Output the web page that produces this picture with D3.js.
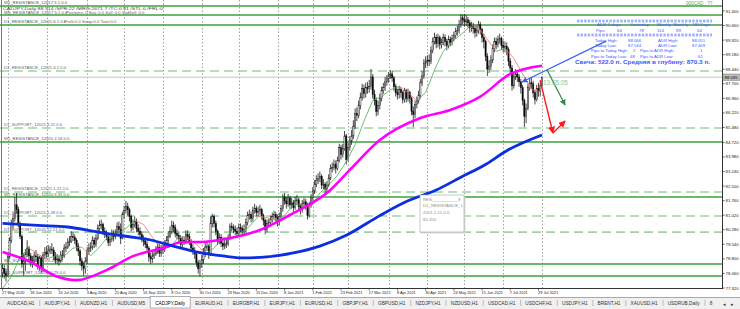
<!DOCTYPE html>
<html><head><meta charset="utf-8">
<script src="https://cdn.jsdelivr.net/npm/d3@7/dist/d3.min.js"></script>
<style>body{margin:0;background:#fff}svg{display:block;font-family:"Liberation Sans",Arial,sans-serif}</style>
</head><body><svg id="c" width="740" height="309"></svg>
<script>
// ---------- DATA (CADJPY, Daily) ----------
const openP = [78.10,78.30,78.05,77.95,78.90,79.75,80.60,80.85,81.55,81.30,
80.55,79.95,78.55,78.70,79.05,79.35,78.95,78.60,78.70,78.95,
78.90,78.40,78.85,78.30,79.00,79.15,79.05,79.20,79.30,79.25,
78.95,78.75,78.80,78.70,79.00,78.95,79.35,79.40,79.65,79.70,
79.95,79.90,79.75,79.45,79.20,78.70,78.45,78.30,78.70,79.20,
79.35,79.40,79.75,79.55,79.85,80.35,80.50,80.55,80.20,80.05,
79.95,79.65,79.80,80.10,79.95,80.05,80.45,80.30,79.85,81.05,
81.25,81.45,81.30,80.95,80.40,80.55,80.70,80.35,80.20,80.05,
79.85,79.70,79.55,79.35,78.90,78.80,78.95,79.05,79.20,79.40,
79.10,79.25,79.30,79.50,79.75,79.95,80.20,80.50,80.40,80.10,
80.00,79.85,79.55,79.75,79.70,80.05,79.95,79.70,79.35,79.20,
79.05,78.60,78.30,78.55,78.75,79.05,79.40,79.45,79.00,80.60,
80.95,80.60,80.20,79.70,79.90,79.60,79.45,79.55,79.60,79.85,
80.45,80.40,80.30,80.20,80.10,80.40,80.35,80.20,80.30,80.65,
81.00,81.05,80.85,81.25,81.35,81.15,81.20,81.30,81.00,80.75,
80.30,80.60,80.65,80.80,80.95,81.05,80.90,80.70,80.95,81.35,
81.95,81.75,81.60,81.90,81.55,81.65,81.40,81.75,81.80,81.45,
81.30,81.60,81.70,81.55,81.00,81.55,81.90,82.25,82.60,82.80,
82.90,83.00,82.55,82.60,82.35,82.55,82.90,83.40,83.45,83.60,
83.40,83.80,84.45,84.10,84.40,85.05,83.85,84.45,84.80,85.05,
85.55,86.20,86.10,86.60,87.00,87.45,87.20,87.50,87.45,87.55,
88.05,87.15,86.85,86.30,86.60,86.95,87.35,87.50,87.80,87.95,
88.10,88.20,88.00,87.55,87.25,87.15,87.40,87.25,86.90,87.35,
86.95,87.25,86.95,86.30,86.15,86.65,86.85,87.10,87.75,88.10,
88.75,88.85,88.90,88.85,89.40,89.85,90.05,89.75,90.05,89.70,
89.80,90.05,89.85,89.65,89.95,89.80,90.00,90.15,90.35,90.40,
90.70,91.05,90.95,90.85,90.95,90.80,90.55,90.60,90.50,90.30,
90.40,90.70,90.45,90.05,89.85,89.10,88.45,88.60,88.90,89.50,
89.85,89.70,89.95,90.00,89.65,89.55,89.60,89.45,88.85,88.50,
87.60,88.05,88.20,88.05,87.80,87.50,86.85,86.05,86.45,87.50,
87.75,87.70,87.25,86.90,87.45,87.30,87.60];
const highP = [78.55,78.50,78.30,79.05,79.90,80.80,81.10,81.95,82.15,81.45,
80.70,80.05,79.10,79.30,79.75,79.45,79.10,78.95,79.15,79.25,
79.05,78.95,78.95,79.15,79.40,79.45,79.50,79.45,79.60,79.40,
79.15,79.05,78.95,79.20,79.25,79.55,79.65,79.85,79.95,80.20,
80.15,80.05,79.85,79.60,79.30,78.85,78.65,78.90,79.40,79.60,
79.65,79.95,79.90,80.05,80.55,80.75,80.80,80.65,80.40,80.25,
80.10,79.95,80.30,80.25,80.30,80.65,80.70,80.60,81.20,81.50,
81.75,81.65,81.40,81.05,80.80,80.95,80.85,80.55,80.40,80.20,
80.00,79.90,79.70,79.45,79.10,79.20,79.30,79.45,79.65,79.55,
79.50,79.55,79.75,79.95,80.20,80.45,80.75,80.70,80.55,80.30,
80.20,80.00,79.95,79.95,80.25,80.25,80.10,79.80,79.55,79.40,
79.15,78.75,78.75,79.00,79.35,79.65,79.70,79.55,80.95,81.10,
81.05,80.75,80.30,80.10,80.05,79.75,79.80,79.85,80.05,80.60,
80.65,80.55,80.50,80.40,80.60,80.60,80.50,80.55,80.85,81.20,
81.30,81.20,81.45,81.60,81.50,81.45,81.55,81.40,81.10,80.85,
80.80,80.85,81.00,81.15,81.25,81.20,81.05,81.15,81.55,82.10,
82.15,81.95,82.10,82.00,81.90,81.80,81.95,82.05,81.90,81.60,
81.80,81.90,81.85,81.65,81.70,82.10,82.45,82.80,83.05,83.15,
83.25,83.10,82.85,82.70,82.75,83.10,83.60,83.70,83.85,83.80,
84.00,84.65,84.60,84.65,85.30,85.15,84.70,85.05,85.35,85.85,
86.45,86.50,86.85,87.25,87.70,87.65,87.75,87.80,87.90,88.45,
88.20,87.40,87.00,86.85,87.20,87.55,87.75,88.05,88.15,88.30,
88.40,88.35,88.10,87.70,87.45,87.60,87.55,87.35,87.50,87.45,
87.45,87.35,87.05,86.55,86.85,87.05,87.35,87.95,88.35,88.95,
89.10,89.15,89.20,89.60,90.05,90.30,90.20,90.25,90.15,90.00,
90.25,90.20,90.00,90.15,90.10,90.20,90.35,90.55,90.65,90.95,
91.25,91.20,91.25,91.20,91.10,90.95,90.85,90.80,90.65,90.65,
90.90,90.85,90.55,90.25,89.95,89.25,88.90,89.15,89.70,90.05,
90.05,90.15,90.25,90.10,89.90,89.85,89.80,89.55,89.00,88.65,
88.25,88.45,88.40,88.20,87.95,87.65,86.95,86.70,87.70,88.00,
88.00,87.85,87.40,87.65,87.75,87.75,88.07];
const lowP = [77.85,77.80,77.65,77.90,78.80,79.60,80.35,80.70,81.10,80.40,
79.80,78.35,77.95,78.20,78.90,78.70,78.40,78.35,78.55,78.65,
78.25,78.20,78.10,78.15,78.80,78.85,78.90,79.05,79.05,78.75,
78.55,78.55,78.45,78.60,78.75,78.85,79.15,79.30,79.45,79.60,
79.70,79.55,79.20,78.95,78.45,78.20,77.95,78.05,78.55,79.00,
79.15,79.25,79.35,79.40,79.75,80.20,80.30,80.00,79.85,79.75,
79.45,79.45,79.65,79.70,79.80,79.95,80.10,79.55,79.80,80.85,
81.10,81.00,80.70,80.20,80.25,80.40,80.15,80.00,79.85,79.65,
79.45,79.35,79.10,78.65,78.55,78.60,78.80,78.95,79.05,78.90,
78.90,79.05,79.15,79.35,79.60,79.85,80.05,80.15,79.90,79.80,
79.65,79.35,79.40,79.50,79.55,79.75,79.50,79.15,79.00,78.80,
78.40,78.05,77.90,78.35,78.55,78.90,79.20,78.80,78.95,80.40,
80.40,80.00,79.50,79.55,79.40,79.25,79.30,79.35,79.45,79.75,
80.20,80.10,80.00,79.85,79.95,80.15,80.00,80.05,80.15,80.50,
80.80,80.65,80.70,81.10,80.95,80.95,81.05,80.80,80.50,80.05,
80.15,80.40,80.50,80.65,80.80,80.70,80.45,80.50,80.85,81.20,
81.55,81.35,81.45,81.35,81.35,81.20,81.30,81.55,81.25,81.05,
81.15,81.40,81.30,80.80,80.90,81.40,81.75,82.10,82.45,82.60,
82.70,82.35,82.35,82.10,82.20,82.45,82.80,83.20,83.30,83.15,
83.30,83.70,83.85,83.95,84.30,83.60,83.75,84.30,84.60,84.90,
85.40,85.80,85.95,86.40,86.85,86.95,87.00,87.20,87.25,87.40,
86.95,86.60,86.05,86.10,86.40,86.80,87.20,87.35,87.60,87.75,
87.95,87.80,87.35,87.05,86.90,86.95,87.00,86.70,86.75,86.75,
86.80,86.70,86.10,85.50,85.95,86.45,86.70,86.95,87.60,87.95,
88.50,88.60,88.60,88.70,89.25,89.70,89.50,89.55,89.45,89.50,
89.65,89.60,89.40,89.50,89.60,89.65,89.85,90.00,90.15,90.25,
90.55,90.70,90.60,90.65,90.55,90.30,90.35,90.25,90.05,90.10,
90.25,90.20,89.80,89.50,88.85,88.10,88.25,88.40,88.75,89.30,
89.45,89.55,89.75,89.45,89.30,89.30,89.15,88.60,88.20,87.35,
87.45,87.90,87.80,87.55,87.20,86.60,85.50,85.70,86.35,87.35,
87.45,87.00,86.65,86.80,87.05,87.05,87.54];
const closeP = [78.30,78.05,77.95,78.90,79.75,80.60,80.85,81.55,81.30,80.55,
79.95,78.55,78.70,79.05,79.35,78.95,78.60,78.70,78.95,78.90,
78.40,78.85,78.30,79.00,79.15,79.05,79.20,79.30,79.25,78.95,
78.75,78.80,78.70,79.00,78.95,79.35,79.40,79.65,79.70,79.95,
79.90,79.75,79.45,79.20,78.70,78.45,78.30,78.70,79.20,79.35,
79.40,79.75,79.55,79.85,80.35,80.50,80.55,80.20,80.05,79.95,
79.65,79.80,80.10,79.95,80.05,80.45,80.30,79.85,81.05,81.25,
81.45,81.30,80.95,80.40,80.55,80.70,80.35,80.20,80.05,79.85,
79.70,79.55,79.35,78.90,78.80,78.95,79.05,79.20,79.40,79.10,
79.25,79.30,79.50,79.75,79.95,80.20,80.50,80.40,80.10,80.00,
79.85,79.55,79.75,79.70,80.05,79.95,79.70,79.35,79.20,79.05,
78.60,78.30,78.55,78.75,79.05,79.40,79.45,79.00,80.60,80.95,
80.60,80.20,79.70,79.90,79.60,79.45,79.55,79.60,79.85,80.45,
80.40,80.30,80.20,80.10,80.40,80.35,80.20,80.30,80.65,81.00,
81.05,80.85,81.25,81.35,81.15,81.20,81.30,81.00,80.75,80.30,
80.60,80.65,80.80,80.95,81.05,80.90,80.70,80.95,81.35,81.95,
81.75,81.60,81.90,81.55,81.65,81.40,81.75,81.80,81.45,81.30,
81.60,81.70,81.55,81.00,81.55,81.90,82.25,82.60,82.80,82.90,
83.00,82.55,82.60,82.35,82.55,82.90,83.40,83.45,83.60,83.40,
83.80,84.45,84.10,84.40,85.05,83.85,84.45,84.80,85.05,85.55,
86.20,86.10,86.60,87.00,87.45,87.20,87.50,87.45,87.55,88.05,
87.15,86.85,86.30,86.60,86.95,87.35,87.50,87.80,87.95,88.10,
88.20,88.00,87.55,87.25,87.15,87.40,87.25,86.90,87.35,86.95,
87.25,86.95,86.30,86.15,86.65,86.85,87.10,87.75,88.10,88.75,
88.85,88.90,88.85,89.40,89.85,90.05,89.75,90.05,89.70,89.80,
90.05,89.85,89.65,89.95,89.80,90.00,90.15,90.35,90.40,90.70,
91.05,90.95,90.85,90.95,90.80,90.55,90.60,90.50,90.30,90.40,
90.70,90.45,90.05,89.85,89.10,88.45,88.60,88.90,89.50,89.85,
89.70,89.95,90.00,89.65,89.55,89.60,89.45,88.85,88.50,87.60,
88.05,88.20,88.05,87.80,87.50,86.85,86.05,86.45,87.50,87.75,
87.70,87.25,86.90,87.45,87.30,87.60,88.03];

// moving averages (at bar indices)
const blueIdx = [0,20,37,55,70,84,97,112,125,136,150,165,180,195,214,230,246,260,274,286,306];
const blueVal = [80.60,80.50,80.42,80.15,79.95,79.76,79.45,79.12,78.95,78.85,78.90,79.10,79.45,80.00,81.00,81.75,82.30,82.95,83.60,84.30,85.10];
const magIdx = [0,16,30,42,59,74,93,102,112,129,146,163,186,197,214,237,254,271,288,306];
const magVal = [79.15,78.64,77.93,77.72,78.23,78.94,79.40,79.66,79.66,79.86,80.27,81.03,82.30,83.32,84.84,85.96,86.37,87.05,88.20,88.62];
const fastIdx = [0,5,10,15,20,25,30,35,40,45,50,55,60,65,70,75,80,85,90,95,100,105,110,115,120,125,130,135,140,145,150,155,160,165,170,175,180,185,190,195,200,205,210,215,220,225,230,235,240,245,250,255,260,265,270,275,280,285,290,295,300,305];
const fastVal = [77.30,77.90,78.90,79.35,79.05,78.80,78.95,78.95,79.35,79.40,78.95,79.40,79.95,80.05,80.35,80.75,80.55,79.90,79.35,79.40,79.90,79.85,79.55,79.05,79.35,79.90,79.80,80.10,80.45,80.95,80.90,80.75,81.00,81.55,81.55,81.45,82.15,82.55,83.05,83.75,84.60,85.80,86.85,87.05,87.40,87.55,87.25,86.85,87.25,88.40,89.35,89.85,90.20,90.60,90.55,89.95,89.35,89.50,89.00,88.20,87.40,87.30];

const yTickLabels = ["91.400","90.660","89.920","89.180","88.440","87.700","86.960","86.220","85.480","84.720","83.980","83.240","82.500","81.760","81.020","80.280","79.540","78.800","78.060","77.320"];
const dateLabels = ["27 May 2020","18 Jun 2020","10 Jul 2020","3 Aug 2020","25 Aug 2020","16 Sep 2020","8 Oct 2020","30 Oct 2020","23 Nov 2020","15 Dec 2020","8 Jan 2021","1 Feb 2021","23 Feb 2021","17 Mar 2021","8 Apr 2021","30 Apr 2021","24 May 2021","15 Jun 2021","7 Jul 2021","29 Jul 2021"];
const monthStartIdx = [3,25,48,69,91,113,134,156,176,196,219,241,262,284,306];

const solidLevels = [91.65,91.20,90.69,84.74,81.94,78.54,77.93];
const solidNames = ["W1_RESISTANCE_12017.5.1 0.0","MN_RESISTANCE_12017.5.1 0.0","D1_RESISTANCE_12021.6.1 0.0","W1_RESISTANCE_12020.2.16 0.0","W1_RESISTANCE_12020.5.31 0.0","W1_SUPPORT_12020.6.28 0.0","W1_SUPPORT_12020.10.25 0.0"];
const dashedLevels = [88.35,85.45,82.20,80.98,80.16];
const dashedNames = ["D1_RESISTANCE_12021.4.2 0.0","D1_SUPPORT_12021.4.21 0.0","D1_RESISTANCE_12021.1.21 0.0","D1_SUPPORT_12021.1.28 0.0","D1_SUPPORT_12020.12.21 0.0"];
const currentPrice = 88.035;

// drawn objects (bar index, price)
const blueTrend = [[294.7,87.79],[342.3,89.87]];
const greenArrow = [[308.9,88.40],[319.1,86.62]];
const redArrow = [[304.9,87.89],[312.2,85.20],[315.1,85.45],[319.1,85.81]];
const timerText = {i:306.6, p:87.62, t:"13:05.05"};

const tabs = ["AUDCAD,H1","AUDJPY,H1","AUDNZD,H1","AUDUSD,M5","CADJPY,Daily","EURAUD,H1","EURGBP,H1","EURJPY,H1","EURUSD,H1","GBPJPY,H1","GBPUSD,H1","NZDJPY,H1","NZDUSD,H1","USDCAD,H1","USDCHF,H1","USDJPY,H1","BRENT,H1","XAUUSD,H1","USDRUB,Daily","8"];
const activeTab = "CADJPY,Daily";

const adrHeader = ["ADR:","5 days","Yesterday","Weekly","Monthly","180 Days"];
const adrPips = ["Pips:","64","78","114","89","64"];

// ---------- CHART ----------
const svg = d3.select('#c');
const plotR = 722, plotB = 288;
const x = d3.scaleLinear().domain([0,306]).range([2.5,542]);
const y = d3.scaleLinear().domain([77.32,91.40]).range([288,11]);
const N = Math.min(openP.length, highP.length, lowP.length, closeP.length);

svg.append('rect').attr('width',740).attr('height',309).attr('fill','#fff');
const defs = svg.append('defs');
defs.append('clipPath').attr('id','plot').append('rect').attr('x',0).attr('y',0).attr('width',plotR).attr('height',plotB);
function marker(id,color){
  defs.append('marker').attr('id',id).attr('viewBox','0 0 10 10').attr('refX',9).attr('refY',5)
    .attr('markerWidth',5).attr('markerHeight',5).attr('orient','auto-start-reverse')
    .append('path').attr('d','M0,0L10,5L0,10z').attr('fill',color);
}
marker('mBlue','#3a62f0'); marker('mGreen','#2f8a45'); marker('mRed','#ff1a1a');

const g = svg.append('g').attr('clip-path','url(#plot)');

// vertical grid (monthly)
g.selectAll('.vg').data(monthStartIdx).join('line')
  .attr('x1',d=>Math.round(x(d))+0.5).attr('x2',d=>Math.round(x(d))+0.5)
  .attr('y1',0).attr('y2',plotB).attr('stroke','#8a8a8a').attr('stroke-width',0.8).attr('stroke-dasharray','1.5,2');

// levels
g.selectAll('.dl').data(dashedLevels).join('line')
  .attr('x1',0).attr('x2',plotR).attr('y1',d=>y(d)).attr('y2',d=>y(d))
  .attr('stroke','#9fd3a4').attr('stroke-width',1.6).attr('stroke-dasharray','9,5');
g.selectAll('.sl').data(solidLevels).join('line')
  .attr('x1',0).attr('x2',plotR).attr('y1',d=>y(d)).attr('y2',d=>y(d))
  .attr('stroke','#3f9e3f').attr('stroke-width',1.5);
// current price line
g.append('line').attr('x1',0).attr('x2',plotR).attr('y1',y(currentPrice)).attr('y2',y(currentPrice))
  .attr('stroke','#c4c4c4').attr('stroke-width',1);

// level labels
const lblF = 4.2;
g.selectAll('.sln').data(solidLevels).join('text')
  .attr('x',4).attr('y',(d,i)=> i===1 ? y(d)-1.4 : y(d)-1.6).attr('font-size',lblF).attr('fill','#555').text((d,i)=>solidNames[i]);
g.selectAll('.dln').data(dashedLevels).join('text')
  .attr('x',4).attr('y',d=>y(d)-1.6).attr('font-size',lblF).attr('fill','#666').text((d,i)=>dashedNames[i]);

// candles
const bars = d3.range(N);
g.selectAll('.wick').data(bars).join('line')
  .attr('x1',i=>x(i)).attr('x2',i=>x(i)).attr('y1',i=>y(highP[i])).attr('y2',i=>y(lowP[i]))
  .attr('stroke','#1a1a1a').attr('stroke-width',0.8);
g.selectAll('.body').data(bars).join('rect')
  .attr('x',i=>x(i)-0.6).attr('width',1.2)
  .attr('y',i=>y(Math.max(openP[i],closeP[i])))
  .attr('height',i=>Math.max(0.8, Math.abs(y(openP[i])-y(closeP[i]))))
  .attr('fill',i=>closeP[i]>=openP[i]?'#ffffff':'#000')
  .attr('stroke','#111').attr('stroke-width',0.5);

// thin MA coloured by direction
const fastPts = fastIdx.map((d,i)=>[d,fastVal[i]]);
for(let k=0;k<fastPts.length-1;k++){
  const a=fastPts[k], b=fastPts[k+1];
  g.append('line').attr('x1',x(a[0])).attr('y1',y(a[1])).attr('x2',x(b[0])).attr('y2',y(b[1]))
   .attr('stroke', b[1]>=a[1] ? '#4caf50' : '#ff6b6b').attr('stroke-width',0.8);
}

// magenta & blue MAs
const lineGen = d3.line().x(d=>x(d[0])).y(d=>y(d[1])).curve(d3.curveMonotoneX);
g.append('path').attr('d',lineGen(magIdx.map((d,i)=>[d,magVal[i]])))
  .attr('fill','none').attr('stroke','#ff00ff').attr('stroke-width',2.6);
g.append('path').attr('d',lineGen(blueIdx.map((d,i)=>[d,blueVal[i]])))
  .attr('fill','none').attr('stroke','#0a2ee0').attr('stroke-width',2.8);

// drawn objects
const objLine = d3.line().x(d=>x(d[0])).y(d=>y(d[1]));
g.append('path').attr('d',objLine(blueTrend)).attr('fill','none').attr('stroke','#3a62f0').attr('stroke-width',1.2).attr('marker-start','url(#mBlue)');
g.append('path').attr('d',objLine(greenArrow)).attr('fill','none').attr('stroke','#2f8a45').attr('stroke-width',1.2).attr('marker-end','url(#mGreen)');
g.append('path').attr('d',objLine(redArrow.slice(0,2))).attr('fill','none').attr('stroke','#ff1a1a').attr('stroke-width',1.4).attr('marker-end','url(#mRed)');
g.append('path').attr('d',objLine(redArrow.slice(1))).attr('fill','none').attr('stroke','#ff1a1a').attr('stroke-width',1.4).attr('marker-end','url(#mRed)');
g.append('text').attr('x',x(timerText.i)).attr('y',y(timerText.p)).attr('font-size',6.4).attr('fill','#7cc99a').text(timerText.t);

// left frame
svg.append('line').attr('x1',1.5).attr('x2',1.5).attr('y1',0).attr('y2',plotB).attr('stroke','#777').attr('stroke-width',1);

// right axis
svg.append('line').attr('x1',plotR+0.5).attr('x2',plotR+0.5).attr('y1',0).attr('y2',plotB).attr('stroke','#333');
const yTicks = yTickLabels.map(Number);
svg.selectAll('.yt').data(yTicks).join('line')
  .attr('x1',plotR).attr('x2',plotR+2.5).attr('y1',d=>y(d)).attr('y2',d=>y(d)).attr('stroke','#333').attr('stroke-width',0.8);
svg.selectAll('.ytl').data(yTicks).join('text')
  .attr('x',plotR+3.5).attr('y',d=>y(d)+1.5).attr('font-size',4.3).attr('fill','#222').text((d,i)=>yTickLabels[i]);
// current price tag
svg.append('rect').attr('x',plotR+1).attr('y',y(currentPrice)-3.2).attr('width',17).attr('height',6.4).attr('fill','#bdbdbd').attr('stroke','#777').attr('stroke-width',0.5);
svg.append('text').attr('x',plotR+2.5).attr('y',y(currentPrice)+1.6).attr('font-size',4.3).attr('fill','#000').text(d3.format('.3f')(currentPrice));

// bottom axis
svg.append('line').attr('x1',0).attr('x2',plotR+1).attr('y1',plotB+0.5).attr('y2',plotB+0.5).attr('stroke','#333');
const dIdx = dateLabels.map((d,k)=>k*16);
svg.selectAll('.xt').data(dIdx).join('line')
  .attr('x1',d=>x(d)).attr('x2',d=>x(d)).attr('y1',plotB).attr('y2',plotB+2.5).attr('stroke','#333').attr('stroke-width',0.7);
svg.selectAll('.xtl').data(dIdx).join('text')
  .attr('x',d=>x(d)-0.5).attr('y',plotB+6.2).attr('font-size',3.9).attr('fill','#222').text((d,k)=>dateLabels[k]);

// tabs
svg.append('rect').attr('x',0).attr('y',297).attr('width',740).attr('height',12).attr('fill','#f0f0f0');
svg.append('line').attr('x1',0).attr('x2',740).attr('y1',297.5).attr('y2',297.5).attr('stroke','#a8a8a8');
let tx = 7;
const tabG = svg.append('g').attr('font-size',4.75);
tabs.forEach((name,k)=>{
  const t = tabG.append('text').attr('x',tx).attr('y',305.3).attr('fill','#333').text(name);
  const w = t.node().getComputedTextLength();
  if(name===activeTab){
    tabG.insert('rect','text').attr('x',tx-5).attr('y',296.5).attr('width',w+10).attr('height',11.5)
      .attr('fill','#fff').attr('stroke','#8c8c8c').attr('stroke-width',0.7);
    t.attr('fill','#000');
  }
  const sep = tx + w + 5.3;
  if(k<tabs.length-1 && name!==activeTab && tabs[k+1]!==activeTab){
    tabG.append('line').attr('x1',sep).attr('x2',sep).attr('y1',300).attr('y2',306).attr('stroke','#999').attr('stroke-width',0.6);
  }
  tx = sep + 4.7;
});
svg.append('text').attr('x',723).attr('y',305.5).attr('font-size',5).attr('fill','#333').text('◂');
svg.append('text').attr('x',731).attr('y',305.5).attr('font-size',5).attr('fill','#333').text('▸');

// top-left info
const info = svg.append('g').attr('fill','#444');
info.append('text').attr('x',3).attr('y',9.6).attr('font-size',4.2).attr('textLength',160).attr('lengthAdjust','spacingAndGlyphs')
  .text('CADJPY,Daily  88.514 /SPR:22 /MRG:2671.7 /TC:0.91 /STL:0 /FRL:0');
info.append('text').attr('x',66).attr('y',13.8).attr('font-size',4.2).attr('fill','#666').text('Positions: 0  Buy: 0.0  Sell: 0.0  SodSell: 0.0');
info.append('text').attr('x',64).attr('y',23.1).attr('font-size',4.2).attr('fill','#666').text('Profit:0.0  Swap:0.0  Total:0.0');

// top-right green text
svg.append('text').attr('x',686).attr('y',5.3).attr('font-size',4.6).attr('fill','#4caf50').text('000CAD : ??');

// ADR panel
const blue = '#3d5afe';
const panel = svg.append('g').attr('fill',blue).attr('font-size',4.3);
[21,35].forEach(yy=>{
  panel.append('line').attr('x1',577).attr('x2',712).attr('y1',yy-0.8).attr('y2',yy-0.8).attr('stroke',blue).attr('stroke-width',0.7).attr('stroke-dasharray','2.4,1.2');
  panel.append('line').attr('x1',577).attr('x2',712).attr('y1',yy+0.8).attr('y2',yy+0.8).attr('stroke',blue).attr('stroke-width',0.7).attr('stroke-dasharray','2.4,1.2');
});
const hdrX = [597,608,630,657,673,692];
adrHeader.forEach((s,k)=>panel.append('text').attr('x',hdrX[k]).attr('y',26).text(s));
const pipX = [596,617,639,657,676,697];
adrPips.forEach((s,k)=>panel.append('text').attr('x',pipX[k]).attr('y',31.5).text(s));
const rows = [
  ["Today High:","88.066","ADR High:","88.051",595,628,658,692,41.5],
  ["Today Low:","87.544","ADR Low:","87.409",595,628,658,692,46.8],
  ["Pips to Today High:","2","Pips to ADR High:","1",591,633,640,700,52.4],
  ["Pips to Today Low:","48","Pips to ADR Low:","61",591,630,640,698,57.8]
];
rows.forEach(r=>{
  panel.append('text').attr('x',r[4]).attr('y',r[8]).text(r[0]);
  panel.append('text').attr('x',r[5]).attr('y',r[8]).text(r[1]);
  panel.append('text').attr('x',r[6]).attr('y',r[8]).text(r[2]);
  panel.append('text').attr('x',r[7]).attr('y',r[8]).text(r[3]);
});
panel.append('text').attr('x',575).attr('y',64.3).attr('font-size',5.8).attr('font-weight','bold')
  .attr('textLength',135).attr('lengthAdjust','spacingAndGlyphs')
  .text('Свеча: 522.0 п. Средняя в глубину: 870.3 п.');

// tooltip
const tt = svg.append('g');
tt.append('rect').attr('x',421.5).attr('y',196.5).attr('width',44).attr('height',37).attr('fill','#d8d8d8');
tt.append('rect').attr('x',420).attr('y',195).attr('width',44).attr('height',37).attr('fill','#fff').attr('stroke','#b0b0b0').attr('stroke-width',0.7);
["RES___________9","D1_RESISTANCE_1","2021.1.21 0.0","82.200"].forEach((s,k)=>
  tt.append('text').attr('x',423).attr('y',200.5+k*6.7).attr('font-size',4.3).attr('fill','#8a8a8a').text(s));
</script>
</body></html>
